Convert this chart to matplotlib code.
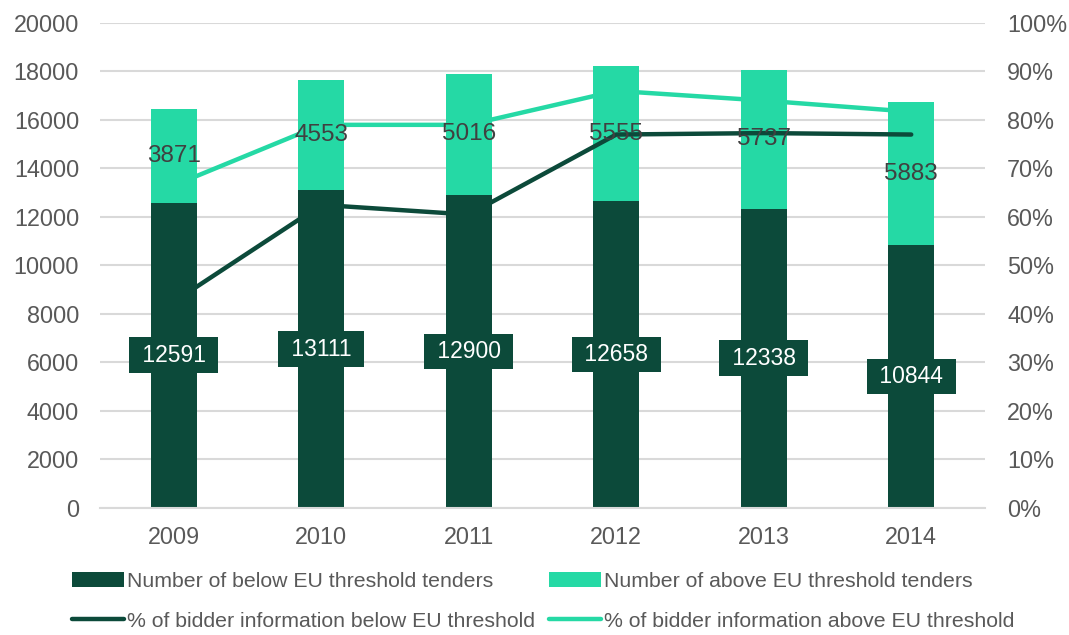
import matplotlib
matplotlib.use("Agg")
import matplotlib.pyplot as plt
from matplotlib.ticker import FuncFormatter, MultipleLocator
from matplotlib.lines import Line2D
from matplotlib.patches import Patch
import numpy as np

years = ["2009", "2010", "2011", "2012", "2013", "2014"]
below_tenders = [12591, 13111, 12900, 12658, 12338, 10844]
above_tenders = [3871, 4553, 5016, 5555, 5737, 5883]
pct_below = [42.5, 62.5, 60.5, 77.0, 77.3, 77.0]
pct_above = [66.5, 79.0, 79.0, 86.0, 84.0, 81.7]

DARK = "#0c4a3a"
LIGHT = "#25d9a5"
TICK = "#595959"
GRID = "#d9d9d9"

plt.rcParams["font.family"] = ["Liberation Sans", "DejaVu Sans"]

fig = plt.figure(figsize=(10.69, 6.35), dpi=100)
ax = fig.add_axes([0.0935, 0.2, 0.8279, 0.7638])
x = np.arange(len(years))
w = 0.31

ax.bar(x, below_tenders, width=w, color=DARK, zorder=2)
ax.bar(x, above_tenders, width=w, bottom=below_tenders, color=LIGHT, zorder=2)

ax.set_xlim(-0.5, len(years) - 0.5)
ax.set_ylim(0, 20000)
ax.yaxis.set_major_locator(MultipleLocator(2000))
ax.grid(axis="y", color=GRID, linewidth=1.5, zorder=0)
ax.set_axisbelow(True)
ax.set_xticks(x)
ax.set_xticklabels(years)
ax.tick_params(axis="x", length=0, pad=13, labelsize=16.8, labelcolor=TICK)
ax.tick_params(axis="y", length=0, pad=15, labelsize=16.8, labelcolor=TICK)
for s in ax.spines.values():
    s.set_visible(False)
ax.spines["bottom"].set_visible(True)
ax.spines["bottom"].set_color(GRID)
ax.spines["bottom"].set_linewidth(1.5)

ax2 = ax.twinx()
ax2.plot(x, pct_below, color=DARK, linewidth=3.2, solid_capstyle="round", solid_joinstyle="round")
ax2.plot(x, pct_above, color=LIGHT, linewidth=3.2, solid_capstyle="round", solid_joinstyle="round")
ax2.set_ylim(0, 100)
ax2.yaxis.set_major_locator(MultipleLocator(10))
ax2.yaxis.set_major_formatter(FuncFormatter(lambda v, p: f"{v:.0f}%"))
ax2.tick_params(axis="y", length=0, pad=16, labelsize=16.8, labelcolor=TICK)
for s in ax2.spines.values():
    s.set_visible(False)

# value labels, centred in each stacked segment
for i in range(len(years)):
    ax2.text(x[i], below_tenders[i] / 2, f" {below_tenders[i]} ", transform=ax.transData,
             ha="center", va="center", color="white", fontsize=16.5, zorder=5,
             bbox=dict(boxstyle="square,pad=0.28", facecolor=DARK, edgecolor="none"))
    ax2.text(x[i], below_tenders[i] + above_tenders[i] / 2, f"{above_tenders[i]}",
             transform=ax.transData, ha="center", va="center", color="#404040",
             fontsize=17.5, zorder=5)

handles = [
    Patch(facecolor=DARK, edgecolor="none"),
    Line2D([0], [0], color=DARK, linewidth=3.2, solid_capstyle="round"),
    Patch(facecolor=LIGHT, edgecolor="none"),
    Line2D([0], [0], color=LIGHT, linewidth=3.2, solid_capstyle="round"),
]
labels = [
    "Number of below EU threshold tenders",
    "% of bidder information below EU threshold",
    "Number of above EU threshold tenders",
    "% of bidder information above EU threshold",
]
fig.legend(handles, labels, ncol=2, loc="upper left", bbox_to_anchor=(0.067, 0.1),
           frameon=False, fontsize=15.3, handlelength=2.45, handleheight=0.75,
           handletextpad=0.15, columnspacing=0.65, labelspacing=0.98, borderpad=0,
           borderaxespad=0, labelcolor=TICK)

fig.savefig("out.png", dpi=100)
